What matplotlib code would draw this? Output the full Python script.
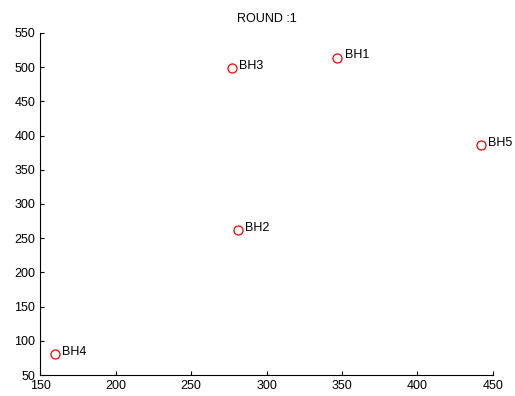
import numpy as np
from matplotlib import pyplot as plt

# coordenadas de los pozos
nombres = ['BH1', 'BH2', 'BH3', 'BH4', 'BH5']
px = [347, 281, 277, 159.5, 442]
py = [514, 262, 499, 80, 386]

plt.rcParams['font.family'] = ['Liberation Sans', 'DejaVu Sans']
plt.rcParams['font.size'] = 9

fig = plt.figure(figsize=(5.15, 3.96), dpi=100)
ax = fig.add_axes([0.078, 0.053, 0.879, 0.864])

ax.plot(px, py, 'o', mfc='none', mec='red', ms=6.5, mew=0.9, ls='none')
for n, x, y in zip(nombres, px, py):
    ax.annotate(n, (x, y), xytext=(5.5, 1.5), textcoords='offset points',
                va='center', ha='left', fontsize=9)

ax.set_xlim(150, 450)
ax.set_ylim(50, 550)
ax.set_xticks(np.arange(150, 451, 50))
ax.set_yticks(np.arange(50, 551, 50))
ax.spines['top'].set_visible(False)
ax.spines['right'].set_visible(False)
ax.tick_params(direction='in', length=3, width=0.8, labelsize=9)
ax.set_title('ROUND :1', fontsize=9, pad=8)

fig.savefig('out.png', dpi=100)
